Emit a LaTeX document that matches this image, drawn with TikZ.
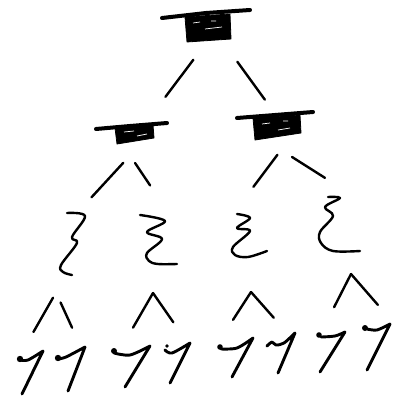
\documentclass[tikz,border=0pt]{standalone}
\usepackage{tikz}
\def\inkw{2.4pt}
\def\capw{4pt}
\def\sevenw{2.9pt}
\tikzset{
	ink/.style={line width=\inkw, line cap=round, line join=round},
	twig/.style={ink},
	brim/.style={line width=\capw, line cap=round},
	board/.style={fill=black, draw=black, line width=0.8pt, line join=round},
	speck/.style={white, line width=0.7pt},
	squiggle/.style={ink, smooth, tension=0.6},
	seven/.style={ink, line width=\sevenw},
}
\begin{document}
\begin{tikzpicture}[x=1pt, y=-1pt]
		\useasboundingbox (0,0) rectangle (396,401);
		\coordinate (v0) at (215,31);
		\coordinate (v1t) at (148,120);
		\coordinate (v2t) at (276,115);
		\coordinate (v1) at (130,155.5);
		\coordinate (v2) at (281,150);
		\coordinate (w1t) at (78,212);
		\coordinate (w2t) at (168,212);
		\coordinate (w3t) at (236,210);
		\coordinate (w4t) at (352,195);
		\coordinate (w1) at (56,292.5);
		\coordinate (w2) at (153,293);
		\coordinate (w3) at (251,292);
		\coordinate (w4) at (351,274);
		\coordinate (o1) at (26,345);
		\coordinate (o2) at (80,345);
		\coordinate (o3) at (123,345);
		\coordinate (o4) at (187,342);
		\coordinate (o5) at (220,340);
		\coordinate (o6) at (289,335);
		\coordinate (o7) at (325,325);
		\coordinate (o8) at (391,320);

		\draw[brim] (162,18) -- (206,13) -- (250,10);
		\draw[board] (185,17) -- (230,14) -- (231,39) -- (187,42) -- cycle;
		\draw[speck] (193,23) -- (200,22) (205,29) -- (222,27) (211,21) -- (216,21);
		\draw[brim] (96,129) -- (130,126) -- (167,123);
		\draw[board] (115,128) -- (153,125) -- (154,138) -- (117,144) -- cycle;
		\draw[speck] (124,132) -- (134,131) (137,136) -- (147,134);
		\draw[brim] (237,118) -- (275,115) -- (313,112);
		\draw[board] (253,118) -- (300,115) -- (301,133) -- (255,140) -- cycle;
		\draw[speck] (262,124) -- (270,123) (278,130) -- (290,128) (283,121) -- (288,121);

		\draw[squiggle] plot coordinates {(67,213) (85,216) (72,237) (77,243) (61,265) (63,272) (72,275)};
		\draw[squiggle] plot coordinates {(140,215) (165,221) (147,232) (162,239) (147,253) (149,261) (158,264) (177,264)};
		\draw[squiggle] plot coordinates {(237,214) (250,218) (237,228) (250,231) (233,247) (235,255) (248,257) (267,251)};
		\draw[squiggle] plot coordinates {(328,197) (340,198) (325,207) (333,216) (320,232) (321,243) (333,251) (360,251)};

		\fill (20,359) circle (3.2pt);
		\draw[seven] plot[smooth] coordinates {(20,360) (28,360) (43,351)} -- (22,394);
		\fill (58,358) circle (3.2pt);
		\draw[seven] plot[smooth] coordinates {(58,359) (66,357) (85,347)} -- (68,391);
		\fill (114,351) circle (3pt);
		\draw[seven] plot[smooth] coordinates {(114,353) (130,355) (150,346)} -- (125,387);
		\fill (167,346) circle (1.8pt);
		\draw[seven] plot[smooth] coordinates {(165,350) (172,353) (190,343)} -- (170,383);
		\fill (220,347) circle (2.8pt);
		\draw[seven] plot[smooth] coordinates {(221,349) (237,348) (253,338)} -- (232,377);
		\draw[seven] plot[smooth] coordinates {(267,346) (272,342) (276,345) (284,343) (295,333)} -- (278,373);
		\fill (319,335) circle (2.8pt);
		\draw[seven] plot[smooth] coordinates {(321,337) (335,336) (345,332)} -- (320,372);
		\fill (365,328) circle (3pt);
		\draw[seven] plot[smooth] coordinates {(367,329) (377,330) (390,324)} -- (367,370);

		\draw[twig, shorten <=36pt, shorten >=29pt] (v0) -- (v1t);
		\draw[twig, shorten <=38pt, shorten >=19pt] (v0) -- (v2t);
		\draw[twig, shorten <=10pt, shorten >=20pt] (v1) -- (w1t);
		\draw[twig, shorten <=9pt, shorten >=32pt] (v1) -- (w2t);
		\draw[twig, shorten <=6pt, shorten >=29pt] (v2) -- (w3t);
		\draw[twig, shorten <=13pt, shorten >=32pt] (v2) -- (w4t);
		\draw[twig, shorten <=6pt, shorten >=15pt] (w1) -- (o1);
		\draw[twig, shorten <=11pt, shorten >=19pt] (w1) -- (o2);
		\draw[twig, shorten >=20pt] (w2) -- (o3);
		\draw[twig, shorten >=24pt] (w2) -- (o4);
		\draw[twig, shorten >=24pt] (w3) -- (o5);
		\draw[twig, shorten >=23pt] (w3) -- (o6);
		\draw[twig, shorten >=20pt] (w4) -- (o7);
		\draw[twig, shorten >=20pt] (w4) -- (o8);
	\end{tikzpicture}
\end{document}
